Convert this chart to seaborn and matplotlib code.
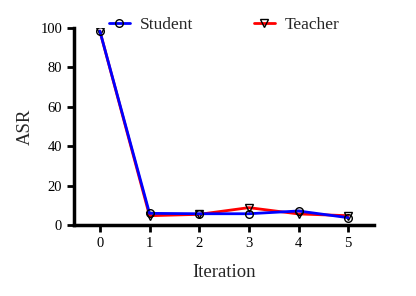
import pandas as pd
import numpy as np
import seaborn as sns
from matplotlib import pyplot as plt

sns.set_style("ticks")
plt.rcParams["font.family"] = ["Liberation Serif", "DejaVu Serif"]

iterations = [0, 1, 2, 3, 4, 5]
student_asr = [98.5, 5.9, 5.7, 5.7, 7.1, 3.7]
teacher_asr = [98.5, 4.7, 5.4, 8.8, 5.6, 4.7]

fig = plt.figure(figsize=(4.16, 2.96), dpi=100)
ax = fig.add_axes([0.178, 0.24, 0.721, 0.665])

# teacher first so the student line sits on top
sns.lineplot(x=iterations, y=teacher_asr, ax=ax, color="red", lw=2,
             marker="v", markersize=5.5, markerfacecolor="none",
             markeredgecolor="black", markeredgewidth=1, label="Teacher")
sns.lineplot(x=iterations, y=student_asr, ax=ax, color="blue", lw=2,
             marker="o", markersize=5.5, markerfacecolor="none",
             markeredgecolor="black", markeredgewidth=1, label="Student")

ax.set_xlim(-0.52, 5.52)
ax.set_ylim(0, 100)
ax.set_xticks(iterations)
ax.set_yticks([0, 20, 40, 60, 80, 100])
ax.set_xlabel("Iteration", fontsize=13.5, labelpad=10)
ax.set_ylabel("ASR", fontsize=13.5, labelpad=5)
ax.tick_params(width=2, length=5, labelsize=10.5, color="black", labelcolor="black")
for side in ["left", "bottom"]:
    ax.spines[side].set_linewidth(2.5)
    ax.spines[side].set_color("black")
sns.despine(ax=ax)

h, l = ax.get_legend_handles_labels()
ax.legend(h[::-1], l[::-1], ncol=2, frameon=False, fontsize=12.5,
          loc="center", bbox_to_anchor=(0.5, 1.015), borderaxespad=0,
          columnspacing=3.5, handlelength=1.2, handletextpad=0.57)

fig.savefig("out.png", dpi=100)
